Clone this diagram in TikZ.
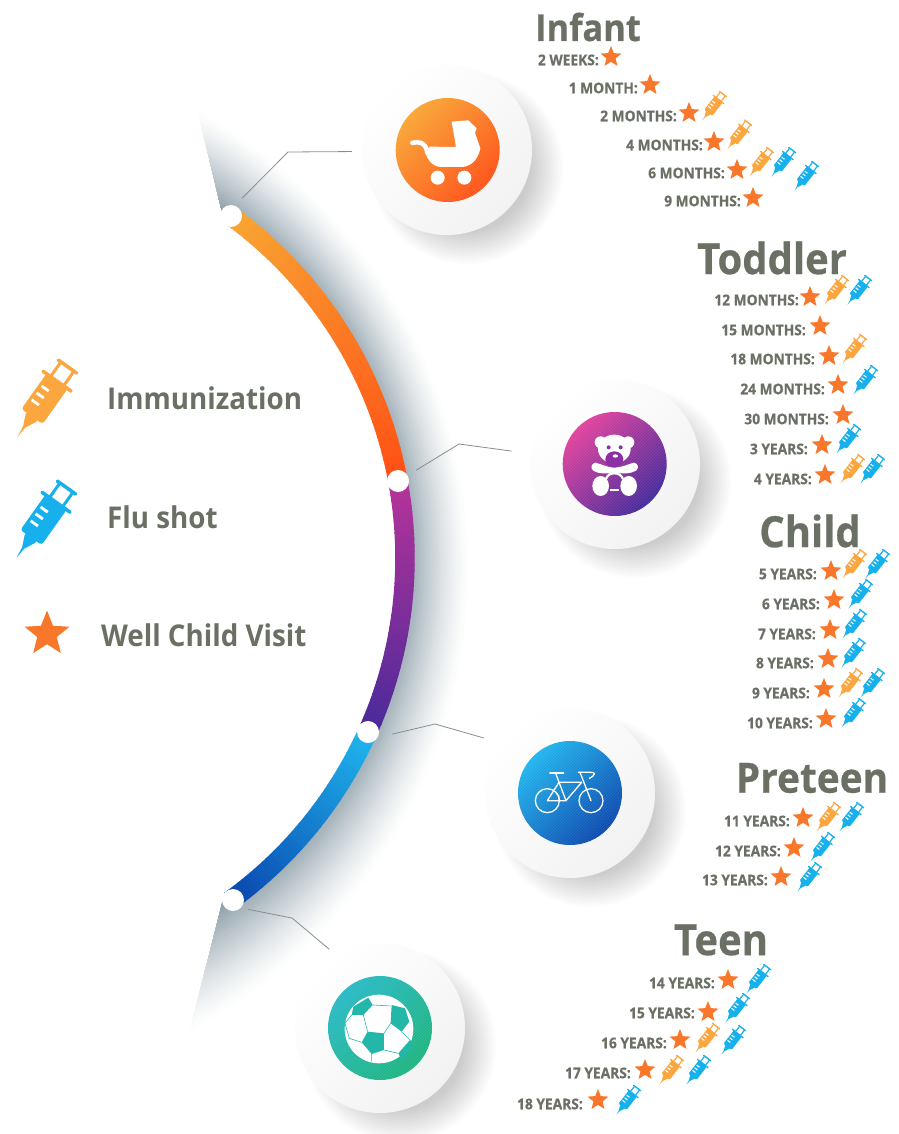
\documentclass[tikz,border=0pt]{standalone}
\usepackage{fontspec}
\setmainfont{Open Sans}[BoldFeatures={FakeStretch=.93,FakeBold=.5}]
\newfontfamily\legf{Open Sans}[BoldFeatures={FakeStretch=.925}]
\usetikzlibrary{shapes.geometric}
\definecolor{txt}{HTML}{6B7064}
\definecolor{sorange}{HTML}{FBA63F}
\definecolor{sblue}{HTML}{16B1EC}
\definecolor{starc}{HTML}{F9772B}
\definecolor{shadowc}{HTML}{90A1AB}
\definecolor{socc}{HTML}{22B7A8}
\definecolor{bearp}{HTML}{8C2EA5}
\definecolor{oa}{HTML}{F9A533}\definecolor{ob}{HTML}{FF5015}
\definecolor{pa}{HTML}{E2409C}\definecolor{pb}{HTML}{42289B}
\definecolor{ba}{HTML}{1FB5EE}\definecolor{bb}{HTML}{0A47AE}
\definecolor{ta}{HTML}{27B9C4}\definecolor{tb}{HTML}{1CB47E}
\definecolor{pc}{HTML}{B5339A}\definecolor{pd}{HTML}{4A2A9A}
\tikzset{
  title/.style={text=txt,inner sep=0pt,font=\bfseries\fontsize{43}{43}\selectfont},
  legendt/.style={text=txt,inner sep=0pt,anchor=west,font=\legf\bfseries\fontsize{30}{30}\selectfont},
  lab/.style={text=txt,inner sep=0pt,anchor=east,font=\bfseries\fontsize{14.8}{14.8}\selectfont},
  wstar/.style={star,star points=5,star point ratio=2.3,fill=starc,inner sep=0pt,minimum size=22pt},
  bigstar/.style={wstar,minimum size=47pt},
  disk/.style={circle,inner sep=0pt,minimum size=170pt,left color=white,right color=black!5,shading angle=45},
  icon/.style={circle,inner sep=0pt,minimum size=104pt},
  dot/.style={circle,fill=white,inner sep=0pt,minimum size=22pt},
  lead/.style={draw=black!45,line width=0.8pt},
  band/.style={line width=19.5pt},
  bike/.style={draw=white,line width=1.3pt,line cap=round,line join=round},
  seam/.style={draw=socc,line width=0.6pt},
  stripe/.style={draw=white,opacity=.09,line width=.9pt}
}
\newcommand{\syr}[5][52]{%
  \begin{scope}[shift={(#2,#3)},rotate=#1,scale=#4,shift={(-44,0)}]
    \fill[#5] (0,0)--(12,-1.6)--(23,-6.5)--(26,-6.5)--(26,6.5)--(23,6.5)--(12,1)--cycle;
    \fill[#5,rounded corners=#4*3pt] (25,-13) rectangle (69,13);
    \fill[#5,rounded corners=#4*1.2pt] (66.5,-18.5) rectangle (70,18.5);
    \fill[#5] (68,-9.5) rectangle (86,-6.5) (68,6.5) rectangle (86,9.5);
    \fill[#5,rounded corners=#4*1.2pt] (84.5,-12.5) rectangle (88,12.5);
    \fill[white] (37,-10) rectangle (39.8,-1) (45.5,-10) rectangle (48.3,-1) (54,-10) rectangle (56.8,-1);
  \end{scope}}
\newcommand{\bandseg}[4]{%
  \foreach \k in {0,...,39}{
    \pgfmathsetmacro\aa{#1+(#2-#1)*\k/40}
    \pgfmathsetmacro\ab{#1+(#2-#1)*(\k+1.15)/40}
    \pgfmathsetmacro\pp{100*\k/39}
    \draw[band,color={#4!\pp!#3}] ({-18+423*cos(\aa)},{558-423*sin(\aa)}) -- ({-18+423*cos(\ab)},{558-423*sin(\ab)});
  }}
\newcommand{\dshadow}[2]{%
  \foreach \r in {64,66,...,96}{\fill[black,opacity=.013] (#1+20,#2+18) circle[radius=\r pt];}}
\newcommand{\hatch}[2]{%
  \begin{scope}
    \clip (#1,#2) circle[radius=52pt];
    \foreach \k in {-75,-72,...,75}{\draw[stripe] (#1+\k-60,#2+60)--(#1+\k+60,#2-60);}
  \end{scope}}
\begin{document}
\begin{tikzpicture}[x=1pt,y=-1pt]
\useasboundingbox (0,0) rectangle (898,1134);
\fill[white] (0,0) rectangle (898,1134);
% shadow crescent
\begin{scope}
  \clip (197,108)--(222,212)--(230.6,215.8) arc[start angle=54,end angle=-54,radius=423pt] --(223,900)--(190,1030)--(640,1030)--(640,108)--cycle;
  \foreach \i in {60,59,...,0}{
    \pgfmathsetmacro\t{\i/60}
    \pgfmathsetmacro\cx{-18-37.7*\t}
    \pgfmathsetmacro\cy{558+11*\t}
    \pgfmathsetmacro\rr{423+102.7*\t}
    \pgfmathsetmacro\pp{100*(1-\t)^1.35}
    \fill[color={shadowc!\pp!white}] (\cx,\cy) circle[radius=\rr pt];
  }
\end{scope}
% disks
\dshadow{447}{150}\dshadow{615}{464}\dshadow{570}{793}\dshadow{380}{1028}
\node[disk] (disk1) at (447,150) {};
\node[disk] (disk2) at (615,464) {};
\node[disk] (disk3) at (570,793) {};
\node[disk] (disk4) at (380,1028) {};
\node[icon,left color=oa,right color=ob,shading angle=45] (ic1) at (447.7,150) {};
\node[icon,left color=pa,middle color=bearp,right color=pb,shading angle=45] (ic2) at (614.7,464) {};
\node[icon,left color=ba,right color=bb,shading angle=45] (ic3) at (570,793) {};
\node[icon,left color=ta,right color=tb,shading angle=45] (ic4) at (380,1028) {};
\hatch{447.7}{150}\hatch{614.7}{464}\hatch{570}{793}\hatch{380}{1028}
% band
\bandseg{54}{10.5}{oa}{ob}
\bandseg{10.5}{-24.3}{pc}{pd}
\bandseg{-24.3}{-54}{ba}{bb}
\node[dot] (d1) at (231,216) {};
\node[dot] (d2) at (398,481) {};
\node[dot] (d3) at (368,732) {};
\node[dot] (d4) at (233,900) {};
% connectors
\coordinate (b1) at (288,152);
\coordinate (b2) at (459,444);
\coordinate (b3) at (435,724);
\coordinate (b4) at (292,918);
\draw[lead,shorten <=10pt,shorten >=10pt] (d1.70) -- (b1) -- (disk1.181);
\draw[lead,shorten <=10pt,shorten >=19pt] (d2.30) -- (b2) -- (disk2.173);
\draw[lead,shorten <=15pt,shorten >=18pt] (d3.-30) -- (b3) -- (disk3.144);
\draw[lead,shorten <=7pt,shorten >=9pt] (d4.-45) -- (b4) -- (disk4.121);
% pram
\begin{scope}[shift={(350,0)},x=.3333pt,y=-.3333pt]
  \fill[white] (305,365)--(355,361)--(380,385)--(375,398)--(391,445) .. controls (385,480) and (360,501) .. (335,501)--(275,501) .. controls (248,501) and (232,480) .. (226,456)--(240,440)--(318,441)--cycle;
  \draw[white,line width=4.6pt,line cap=round] (187,429) .. controls (205,422) and (228,428) .. (232,458);
  \fill[white] (263,533) circle[radius=21] (343,533) circle[radius=21];
\end{scope}
% teddy
\begin{scope}[shift={(530,380)},x=.3333pt,y=-.3333pt]
  \fill[white] (212,187) circle[radius=18] (295,187) circle[radius=18];
  \fill[white] (253,207) ellipse[x radius=49,y radius=43];
  \fill[bearp] (236,202) circle[radius=6] (272,202) circle[radius=6];
  \fill[bearp] (253,238) ellipse[x radius=27,y radius=24];
  \fill[white] (256,228) ellipse[x radius=8,y radius=5];
  \fill[white] (196,248) .. controls (215,252) and (228,262) .. (253,263) .. controls (278,262) and (295,252) .. (312,248) .. controls (325,250) and (328,265) .. (318,272) .. controls (300,282) and (280,282) .. (253,278) .. controls (228,282) and (205,282) .. (190,272) .. controls (180,265) and (184,250) .. (196,248) -- cycle;
  \fill[white] (212,318) ellipse[x radius=25,y radius=30] (296,318) ellipse[x radius=25,y radius=30];
  \draw[white,line width=2.2pt] (228,297) .. controls (232,285) and (242,280) .. (253,280) .. controls (264,280) and (275,285) .. (279,297);
  \fill[white] (241,327) rectangle (267,334);
\end{scope}
% bicycle
\begin{scope}[shift={(490,720)},x=.3333pt,y=-.3333pt]
  \draw[bike] (172,242) circle[radius=36] (303,242) circle[radius=36];
  \draw[bike] (172,242)--(207,187)--(275,187)--(228,242)--cycle;
  \draw[bike] (197,160)--(228,242);
  \draw[bike,line width=2pt] (180,158)--(220,158);
  \draw[bike] (270,157)--(303,242);
  \draw[bike] (265,157)--(300,157) .. controls (318,155) and (318,165) .. (298,175);
  \draw[bike] (198,218) .. controls (205,222) and (208,230) .. (208,240);
\end{scope}
% football
\begin{scope}[shift={(180,880)},x=.3333pt,y=-.3333pt]
  \fill[white] (597,447) circle[radius=103];
  \fill[socc] (563,455)--(612,460)--(612,510)--(575,522)--(545,487)--cycle;
  \fill[socc] (515,405)--(520,380)--(565,353)--(578,375)--(550,405)--cycle;
  \fill[socc] (635,375)--(675,385)--(688,425)--(665,455)--(632,430)--cycle;
  \fill[socc] (690,480)--(655,520)--(665,540)--(690,510)--(696,485)--cycle;
  \draw[seam] (578,375)--(632,378) (632,430)--(612,460) (563,455)--(550,405);
  \draw[seam] (545,487)--(508,475)--(495,430)--(515,405) (612,510)--(655,520) (575,522)--(575,545) (665,455)--(690,480);
\end{scope}
% titles
\node[title,font=\bfseries\fontsize{37}{37}\selectfont] (tInfant) at (588,27) {Infant};
\node[title] (tToddler) at (772,258) {Toddler};
\node[title] (tChild) at (810,531) {Child};
\node[title,font=\bfseries\fontsize{41.7}{41.7}\selectfont] (tPreteen) at (812,778) {Preteen};
\node[title] (tTeen) at (721,940) {Teen};
% rows
\foreach \n/\t/\rx/\ry/\sx/\sy in {
  a1/2 WEEKS:/599/60/611/57, a2/1 MONTH:/638/88/650/85, a3/2 MONTHS:/677/116/689/113,
  a4/4 MONTHS:/703/145/714/142, a5/6 MONTHS:/725/173/737/170, a6/9 MONTHS:/741/201/753/198,
  b1/12 MONTHS:/799/300/810/297, b2/15 MONTHS:/806/330/820/326, b3/18 MONTHS:/815/359/829/356,
  b4/24 MONTHS:/825/389/838/385, b5/30 MONTHS:/829/419/843/415, b6/3 YEARS:/808/449/822/445,
  b7/4 YEARS:/812/479/825/475,
  c1/5 YEARS:/817/574/831/571, c2/6 YEARS:/820/604/834/600, c3/7 YEARS:/816/634/830/630,
  c4/8 YEARS:/814/663/828/659, c5/9 YEARS:/810/693/824/689, c6/10 YEARS:/813/723/826/719,
  e1/11 YEARS:/790/821/803/818, e2/12 YEARS:/781/851/794/848, e3/13 YEARS:/768/880/781/877,
  f1/14 YEARS:/715/983/728/980, f2/15 YEARS:/695/1013/708/1012, f3/16 YEARS:/667/1043/680/1040,
  f4/17 YEARS:/631/1073/645/1070, f5/18 YEARS:/583/1104/598/1100}{
  \node[lab] (lab\n) at (\rx,\ry) {\t};
  \node[wstar] (star\n) at (\sx,\sy) {};
}
% syringes on the rows
\foreach \x/\y in {712.7/107,738/135.7,760/163,835/291,853/350,853/565,851/470,849/684,827/818,706/1039,670/1071}{\syr{\x}{\y}{.39}{sorange}}
\foreach \x/\y in {782/163,805/177,858/291,864/381,847/440,871/470,876/565,859/595,853/625,852/654,871/684,852/714,850/818,821/848,808/878,757/980,736/1009,732/1041,697/1071,627/1101}{\syr{\x}{\y}{.39}{sblue}}
% legend
\syr[54.6]{43}{401}{1}{sorange}
\syr[54.6]{42}{522}{1}{sblue}
\node[bigstar] (legstar) at (47,634) {};
\node[legendt] (legI) at (107,398) {Immunization};
\node[legendt] (legF) at (107,517) {Flu shot};
\node[legendt] (legW) at (101,635) {Well Child Visit};
\end{tikzpicture}
\end{document}
